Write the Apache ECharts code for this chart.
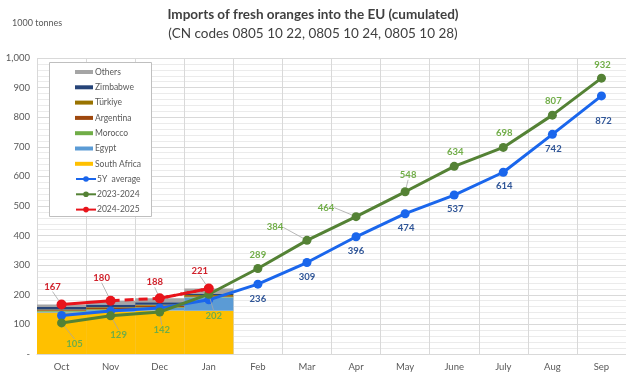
<!DOCTYPE html>
<html><head><meta charset="utf-8">
<script src="https://cdn.jsdelivr.net/npm/echarts@6/dist/echarts.min.js"></script>
<style>html,body{margin:0;padding:0;background:#fff}#c{width:626px;height:375px}</style>
</head><body><div id="c"></div>
<script>
// ---- data ----
const months = ['Oct','Nov','Dec','Jan','Feb','Mar','Apr','May','June','July','Aug','Sep'];
const southAfrica = [140, 143, 147, 146];
const egypt       = [3, 5, 8, 45];
const morocco     = [2, 3, 3, 2];
const argentina   = [3, 4, 5, 3];
const turkiye     = [2, 3, 3, 3];
const zimbabwe    = [9, 9, 9, 4];
const others      = [8, 13, 13, 18];
const avg5y  = [130, 145, 155, 183, 236, 309, 396, 474, 537, 614, 742, 872];
const y2324  = [105, 129, 142, 202, 289, 384, 464, 548, 634, 698, 807, 932];
const y2425  = [167, 180, 188, 221];

// ---- label placement (style) ----
const greenOff = [[13,21],[8,19],[2,18],[5,22],[0,-14],[-32,-13],[-30,-9],[3,-17],[1,-14],[1,-14],[1,-14],[1,-13]];
const greenLeader = [1,1,1,1,0,1,1,1,0,0,0,0];
const blueOff = [[0,0],[0,0],[0,0],[0,0],[0,15],[0,14],[0,14],[1,14],[1,14],[1,14],[1,15],[2,25]];
const blueShow = [0,0,0,0,1,1,1,1,1,1,1,1];
const redOff = [[-9,-18],[-9,-23],[-5,-16],[-9,-18]];

const FONT = 'Lato, "Open Sans", sans-serif';
const leaderStyle = {show:true, lineStyle:{color:'#A6A6A6', width:0.8}};

function mkData(vals, leaders, shows){
  return vals.map((v,i)=>{
    if (v === null) return null;
    const o = {value:v};
    if (leaders) o.labelLine = leaders[i] ? leaderStyle : {show:false};
    if (shows && !shows[i]) o.label = {show:false};
    return o;
  });
}

const redSolid = months.map((m,i)=> i<=1 ? y2425[i] : null);
const redDash  = months.map((m,i)=> (i>=1 && i<y2425.length) ? y2425[i] : null);

const barDefs = [
  ['South Africa', southAfrica, '#FFC000'],
  ['Egypt', egypt, '#5B9BD5'],
  ['Morocco', morocco, '#70AD47'],
  ['Argentina', argentina, '#9E480E'],
  ['Türkiye', turkiye, '#997300'],
  ['Zimbabwe', zimbabwe, '#264478'],
  ['Others', others, '#A5A5A5']
];

const series = barDefs.map(([n,d,c])=>({
  name:n, type:'bar', stack:'imp', data:d, barCategoryGap:'0%',
  itemStyle:{color:c}, z:2, silent:true
}));

const lbl = (color)=>({show:true, position:'inside', color:color, fontSize:9.5, fontWeight:'bold', fontFamily:FONT});

series.push({
  name:'5Y  average', type:'line', data:mkData(avg5y,null,blueShow), z:4,
  color:'#1A66EC', lineStyle:{width:3, color:'#1A66EC'}, symbol:'circle', symbolSize:9,
  itemStyle:{color:'#1A66EC'}, smooth:false,
  label:lbl('#2F5597'),
  labelLayout:(p)=>({dx:blueOff[p.dataIndex][0], dy:blueOff[p.dataIndex][1]}),
  labelLine:{show:false}
});
series.push({
  name:'2023-2024', type:'line', data:mkData(y2324,greenLeader), z:5,
  color:'#548235', lineStyle:{width:3, color:'#548235'}, symbol:'circle', symbolSize:9,
  itemStyle:{color:'#548235'},
  label:lbl('#70AD47'),
  labelLayout:(p)=>({dx:greenOff[p.dataIndex][0], dy:greenOff[p.dataIndex][1]}),
  labelLine:leaderStyle
});
series.push({
  name:'2024-2025', type:'line', data:mkData(redSolid,[1,1,1,1,0,0,0,0,0,0,0,0]), z:6,
  color:'#E8141B', lineStyle:{width:3, color:'#E8141B'}, symbol:'circle', symbolSize:10,
  itemStyle:{color:'#E8141B'},
  label:lbl('#D0202A'),
  labelLayout:(p)=>({dx:redOff[p.dataIndex][0], dy:redOff[p.dataIndex][1]}),
  labelLine:leaderStyle
});
series.push({
  name:'2024-2025 dash', type:'line', data:mkData(redDash.map((v,i)=> i===1?null:v),[0,0,1,1,0,0,0,0,0,0,0,0]), z:6,
  lineStyle:{width:3, color:'#E8141B', type:[9,5]}, symbol:'circle', symbolSize:10,
  itemStyle:{color:'#E8141B'},
  label:lbl('#D0202A'),
  labelLayout:(p)=>({dx:redOff[p.dataIndex][0], dy:redOff[p.dataIndex][1]}),
  labelLine:leaderStyle
});
series.push({
  name:'2024-2025 link', type:'line', data:redDash, z:6,
  lineStyle:{width:3, color:'#E8141B', type:[9,5]}, showSymbol:false, symbol:'none',
  silent:true
});

const chart = echarts.init(document.getElementById('c'), null, {renderer:'canvas'});
chart.setOption({
  animation:false,
  backgroundColor:'#ffffff',
  textStyle:{fontFamily:FONT},
  title:{
    left:'center', top:3,
    text:'Imports of fresh oranges into the EU (cumulated)',
    subtext:'(CN codes 0805 10 22, 0805 10 24, 0805 10 28)',
    itemGap:5,
    textStyle:{fontFamily:FONT, fontSize:13.5, fontWeight:'bold', color:'#404040'},
    subtextStyle:{fontFamily:FONT, fontSize:13.5, color:'#404040'}
  },
  graphic:[
    {type:'text', left:12, top:19, z:10, style:{text:'1000 tonnes', font:'9px '+FONT, fill:'#595959'}},
    {type:'rect', shape:{x:49.5, y:62.5, width:102, height:154}, z:8,
     style:{fill:'#ffffff', stroke:'#BFBFBF', lineWidth:1}}
  ],
  legend:[
    {orient:'vertical', left:70, top:61, z:10, itemWidth:18, itemHeight:4, itemGap:3.3, icon:'rect',
     data:['Others','Zimbabwe','Türkiye','Argentina','Morocco','Egypt','South Africa'],
     textStyle:{fontFamily:FONT, fontSize:8.5, color:'#595959', lineHeight:12, padding:[0,0,0,-3]}},
    {orient:'vertical', left:70, top:168, z:10, itemWidth:20, itemHeight:7, itemGap:3.3,
     data:['5Y  average','2023-2024','2024-2025'],
     textStyle:{fontFamily:FONT, fontSize:8.5, color:'#595959', lineHeight:12, padding:[0,0,0,-4]}}
  ],
  grid:{left:37, right:-10, top:58, bottom:21, containLabel:false},
  xAxis:{
    type:'category', data:months, boundaryGap:true,
    axisLine:{lineStyle:{color:'#D9D9D9'}}, axisTick:{show:false},
    axisLabel:{color:'#595959', fontSize:9.5, margin:8, fontFamily:FONT},
    splitLine:{show:true, interval:0, lineStyle:{color:'#D9D9D9', width:1}}
  },
  yAxis:{
    type:'value', min:0, max:1000, interval:100,
    axisLine:{show:false}, axisTick:{show:false},
    axisLabel:{color:'#595959', fontSize:9.5, margin:7, fontFamily:FONT,
      formatter:(v)=> v===0 ? '-' : v.toLocaleString('en-US')},
    splitLine:{lineStyle:{color:'#D9D9D9', width:1}},
    minorTick:{show:false, splitNumber:5},
    minorSplitLine:{show:true, lineStyle:{color:'#EBEBEB', width:1}}
  },
  series:series
});
</script></body></html>
